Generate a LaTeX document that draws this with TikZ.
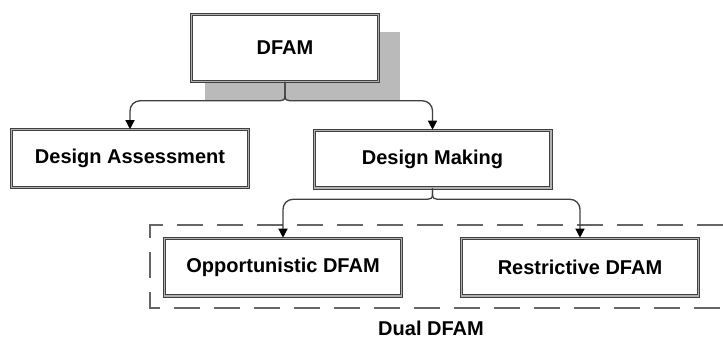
\documentclass[tikz,border=0pt]{standalone}
\usepackage{fontspec}
\setmainfont{Liberation Sans}
\usetikzlibrary{arrows.meta,positioning}

\begin{document}
\begin{tikzpicture}[
  x=1pt, y=-1pt,
  box/.style={rectangle, draw=black!75, line width=1pt, double=black!30, double distance=1.4pt, fill=white, minimum width=236.6pt, minimum height=57.6pt, align=center, font=\fontsize{20}{24}\selectfont\bfseries},
  arrow/.style={-{Triangle[length=9pt,width=9pt,color=black]}, draw=black!75, line width=1.3pt},
  group/.style={draw=black!60, line width=1.8pt, dash pattern=on 26pt off 14pt}
]
\useasboundingbox (0,0) rectangle (723,341);
% shadow behind the top box
\fill[black!27] (205,32) rectangle (400,100);
\node[box, minimum width=186.6pt, minimum height=66.6pt] (dfam) at (285,48) {DFAM};
\node[box] (assess) at (130,158.5) {Design Assessment};
\node[box] (making) at (432.5,159) {Design Making};
\node[box] (opport) at (283,267) {Opportunistic DFAM};
\node[box] (restr) at (580,267) {Restrictive DFAM};

% dashed group round the two kinds
\draw[group] (723,225) -- (150,225) -- (150,308) -- (723,308);
\node[font=\fontsize{20}{24}\selectfont\bfseries] (dual) at (431,328) {Dual DFAM};

\draw[arrow] (dfam.south) -- ++(0,14) .. controls +(0,4) and +(3,0) .. ++(-5,5) [rounded corners=10pt] -| (assess.north);
\draw[arrow] (dfam.south) -- ++(0,14) .. controls +(0,4) and +(-3,0) .. ++(5,5) [rounded corners=10pt] -| (making.north);
\draw[arrow] (making.south) -- ++(0,6) .. controls +(0,4) and +(3,0) .. ++(-5,5) [rounded corners=10pt] -| (opport.north);
\draw[arrow] (making.south) -- ++(0,6) .. controls +(0,4) and +(-3,0) .. ++(5,5) [rounded corners=10pt] -| (restr.north);
\end{tikzpicture}
\end{document}
